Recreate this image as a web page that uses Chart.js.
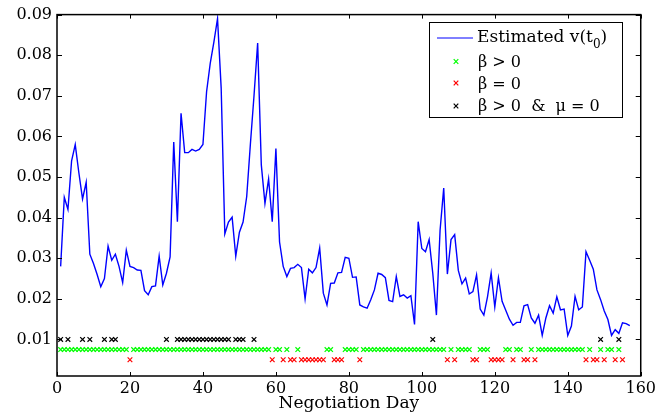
<!DOCTYPE html>
<html><head><meta charset="utf-8">
<script src="https://cdn.jsdelivr.net/npm/chart.js@4.4.1/dist/chart.umd.min.js"></script>
<style>html,body{margin:0;padding:0;background:#fff}#wrap{width:659px;height:412px}</style>
</head><body><div id="wrap"><canvas id="c" width="659" height="412"></canvas></div>
<script>
const days = [1,2,3,4,5,6,7,8,9,10,11,12,13,14,15,16,17,18,19,20,21,22,23,24,25,26,27,28,29,30,
31,32,33,34,35,36,37,38,39,40,41,42,43,44,45,46,47,48,49,50,51,52,53,54,55,56,57,58,59,60,
61,62,63,64,65,66,67,68,69,70,71,72,73,74,75,76,77,78,79,80,81,82,83,84,85,86,87,88,89,90,
91,92,93,94,95,96,97,98,99,100,101,102,103,104,105,106,107,108,109,110,111,112,113,114,115,116,117,118,119,120,
121,122,123,124,125,126,127,128,129,130,131,132,133,134,135,136,137,138,139,140,141,142,143,144,145,146,147,148,149,150,
151,152,153,154,155,156,157];
const vEst = [0.028,0.045,0.042,0.054,0.058,0.051,0.0446,0.0487,0.031,0.0287,
0.026,0.023,0.025,0.033,0.0295,0.031,0.028,0.024,0.032,0.028,
0.0277,0.0271,0.027,0.022,0.021,0.023,0.0232,0.0305,0.0234,0.0263,
0.0303,0.0586,0.039,0.0657,0.056,0.056,0.0568,0.0564,0.0568,0.058,
0.071,0.078,0.0832,0.089,0.0719,0.036,0.0389,0.0401,0.0305,0.0364,
0.0389,0.0452,0.058,0.070,0.083,0.053,0.0435,0.0495,0.039,0.057,
0.034,0.028,0.0255,0.0275,0.0277,0.0285,0.0277,0.020,0.0273,0.0264,
0.0277,0.0325,0.0214,0.0185,0.0238,0.0239,0.0264,0.0265,0.0302,0.030,
0.0253,0.0254,0.0185,0.018,0.0177,0.0198,0.0222,0.0263,0.026,0.0252,
0.0196,0.0193,0.0255,0.0206,0.021,0.0202,0.0208,0.0137,0.039,0.0324,
0.0316,0.0346,0.0263,0.016,0.0369,0.0473,0.0261,0.0346,0.0358,0.027,
0.0237,0.0251,0.0212,0.0218,0.0259,0.0175,0.016,0.0205,0.0264,0.018,
0.0252,0.0194,0.0172,0.015,0.0135,0.0142,0.0142,0.0183,0.0186,0.0153,
0.014,0.016,0.011,0.0153,0.0183,0.0165,0.0205,0.0173,0.0175,0.011,
0.0133,0.0206,0.0173,0.018,0.0316,0.0295,0.0273,0.0222,0.0198,0.017,
0.0149,0.011,0.0124,0.0115,0.0141,0.0139,0.0134];
const greenDays = [1,2,3,4,5,6,7,8,9,10,11,12,13,14,15,16,17,18,19,
21,22,23,24,25,26,27,28,29,30,31,32,33,34,35,36,37,38,39,40,41,42,43,44,45,46,47,48,49,50,51,52,53,54,55,56,57,58,
60,61,63,66,74,75,79,80,81,82,
84,85,86,87,88,89,90,91,92,93,94,95,96,97,98,99,100,101,102,103,104,105,106,
108,110,111,112,113,116,117,118,123,124,126,127,130,
132,133,134,135,136,137,138,139,140,141,142,143,144,146,149,151,152,154];
const redDays = [20,59,62,64,65,67,68,69,70,71,72,73,76,77,78,83,107,109,114,115,119,120,121,122,125,128,129,131,145,147,148,150,153,155];
const blackDays = [1,3,7,9,13,15,16,30,33,34,35,36,37,38,39,40,41,42,43,44,45,46,47,49,50,51,54,103,149,154];
const greenLevel = 0.0075, redLevel = 0.005, blackLevel = 0.01;
const xTicks = [0,20,40,60,80,100,120,140,160];
const yTicks = [0.01,0.02,0.03,0.04,0.05,0.06,0.07,0.08,0.09];
const legendLabels = ['Estimated v(t', '0', ')', 'β > 0', 'β = 0', 'β > 0  &  μ = 0'];

const FONT = '"DejaVu Serif", serif';

const framePlugin = {
  id: 'frame',
  afterDraw(chart) {
    const {ctx, chartArea: a, scales: {x, y}} = chart;
    ctx.save();
    ctx.strokeStyle = '#000';
    ctx.lineWidth = 1.5;
    ctx.strokeRect(a.left, a.top, a.right - a.left, a.bottom - a.top);
    ctx.lineWidth = 1;
    ctx.beginPath();
    xTicks.forEach(v => {
      const px = Math.round(x.getPixelForValue(v)) + 0.5;
      ctx.moveTo(px, a.bottom); ctx.lineTo(px, a.bottom - 4);
      ctx.moveTo(px, a.top); ctx.lineTo(px, a.top + 4);
    });
    yTicks.forEach(v => {
      const py = Math.round(y.getPixelForValue(v)) + 0.5;
      ctx.moveTo(a.left, py); ctx.lineTo(a.left + 5, py);
      ctx.moveTo(a.right, py); ctx.lineTo(a.right - 5, py);
    });
    ctx.stroke();

    // legend
    const L = 429.5, T = 22.5, R = 622.5, B = 117.5;
    ctx.fillStyle = '#fff';
    ctx.fillRect(L, T, R - L, B - T);
    ctx.strokeStyle = '#000';
    ctx.lineWidth = 1;
    ctx.strokeRect(L, T, R - L, B - T);
    ctx.strokeStyle = '#0000ff';
    ctx.beginPath(); ctx.moveTo(437, 38); ctx.lineTo(473, 38); ctx.stroke();
    ctx.fillStyle = '#000';
    ctx.textBaseline = 'alphabetic';
    ctx.textAlign = 'left';
    ctx.font = '17px ' + FONT;
    ctx.fillText(legendLabels[0], 477, 42);
    let w = ctx.measureText(legendLabels[0]).width;
    ctx.font = '12px ' + FONT;
    ctx.fillText(legendLabels[1], 477 + w, 48);
    const w2 = ctx.measureText(legendLabels[1]).width;
    ctx.font = '17px ' + FONT;
    ctx.fillText(legendLabels[2], 477 + w + w2, 42);
    ctx.font = '16px ' + FONT;
    ctx.fillText(legendLabels[3], 478, 67);
    ctx.fillText(legendLabels[4], 478, 88.5);
    ctx.fillText(legendLabels[5], 478, 111);
    const cross = (cx, cy, col) => {
      ctx.strokeStyle = col; ctx.lineWidth = 1.2;
      ctx.beginPath();
      ctx.moveTo(cx - 2.3, cy - 2.3); ctx.lineTo(cx + 2.3, cy + 2.3);
      ctx.moveTo(cx + 2.3, cy - 2.3); ctx.lineTo(cx - 2.3, cy + 2.3);
      ctx.stroke();
    };
    cross(456, 61.5, '#00ff00');
    cross(456, 83, '#ff0000');
    cross(456, 106, '#000000');
    ctx.restore();
  }
};

const markerSet = (arr, level, col) => ({
  data: arr.map(d => ({x: d, y: level})),
  showLine: false,
  pointStyle: 'crossRot',
  pointRadius: 3.3,
  pointBorderColor: col,
  pointBackgroundColor: col,
  pointBorderWidth: 1.2,
  pointHoverRadius: 0,
  borderColor: col
});

new Chart(document.getElementById('c'), {
  type: 'line',
  data: {
    datasets: [
      {
        label: 'Estimated v(t0)',
        data: days.map((d, i) => ({x: d, y: vEst[i]})),
        borderColor: '#0000ff',
        borderWidth: 1.4,
        pointRadius: 0,
        tension: 0,
        fill: false
      },
      markerSet(greenDays, greenLevel, '#00ff00'),
      markerSet(redDays, redLevel, '#ff0000'),
      markerSet(blackDays, blackLevel, '#000000')
    ]
  },
  options: {
    responsive: false,
    animation: false,
    devicePixelRatio: 1,
    layout: {padding: {left: 0, right: 16, top: 13, bottom: 0}},
    plugins: {legend: {display: false}, tooltip: {enabled: false}},
    scales: {
      x: {
        type: 'linear', min: 0, max: 160,
        afterBuildTicks: s => { s.ticks = xTicks.map(v => ({value: v})); },
        afterFit: s => { s.height = 36; },
        grid: {display: false, drawTicks: false},
        border: {display: false},
        ticks: {color: '#000', font: {family: FONT, size: 16}, padding: 3, maxRotation: 0, callback: v => String(v)},
        title: {display: true, text: 'Negotiation Day', color: '#000', font: {family: FONT, size: 17, lineHeight: 1.0}, padding: {top: 0, bottom: 0}}
      },
      y: {
        type: 'linear', min: 0.001, max: 0.09,
        afterBuildTicks: s => { s.ticks = yTicks.map(v => ({value: v})); },
        afterFit: s => { s.width = 57; },
        grid: {display: false, drawTicks: false},
        border: {display: false},
        ticks: {color: '#000', font: {family: FONT, size: 16}, padding: 5, callback: v => v.toFixed(2)}
      }
    }
  },
  plugins: [framePlugin]
});
</script>
</body></html>
